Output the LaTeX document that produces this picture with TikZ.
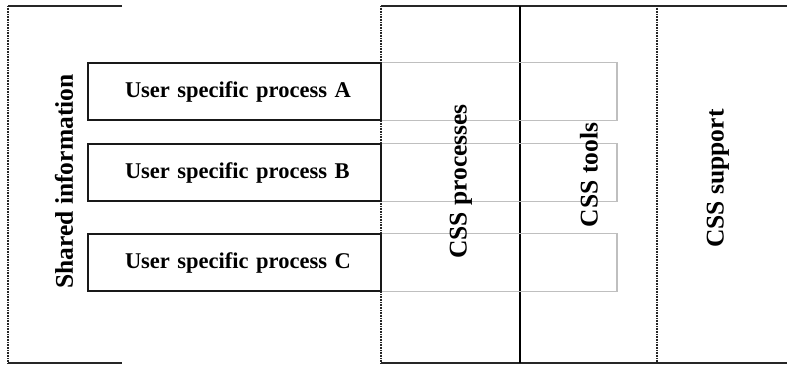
\documentclass[tikz,border=0pt]{standalone}
\usepackage{fontspec}
\setmainfont{Liberation Serif}
\begin{document}
\begin{tikzpicture}[x=1pt,y=-1pt,
  frame/.style={line width=1.1pt,draw=black!85},
  dotline/.style={line width=1.4pt,draw=black!85,dash pattern=on 0.9pt off 0.7pt},
  procbox/.style={draw=black!90,line width=1.1pt,minimum width=293pt,minimum height=57pt,
    inner xsep=0pt,inner ysep=0pt,text width=293pt,align=left,
    font=\fontsize{22.5}{24}\selectfont\bfseries},
  extend/.style={draw=black!25,line width=1.2pt},
  vlabel/.style={rotate=90,font=\fontsize{25.5}{28}\selectfont\bfseries,inner sep=0pt}]
\useasboundingbox (0,0) rectangle (787,365);

% shared information bracket
\coordinate (s1) at (122,6);
\coordinate (s2) at (8,6);
\coordinate (s3) at (8,363);
\coordinate (s4) at (122,363);
\draw[frame] (s1) -- (s2);
\draw[dotline] (s2) -- (s3);
\draw[frame] (s3) -- (s4);
\node[vlabel] (shared) at (64,181.5) {Shared information};

% CSS columns
\coordinate (c1) at (381,6);
\coordinate (c2) at (787,6);
\coordinate (c3) at (381,363);
\coordinate (c4) at (787,363);
\coordinate (t1) at (520,6);
\coordinate (t2) at (520,363);
\coordinate (u1) at (657,6);
\coordinate (u2) at (657,363);
\draw[frame] (c1) -- (c2);
\draw[frame] (c3) -- (c4);
\draw[dotline] (c1) -- (c3);
\draw[line width=1.1pt] (t1) -- (t2);
\draw[dotline] (u1) -- (u2);

% user specific processes
\foreach \n/\y/\t in {A/91.5/User specific process A, B/172.5/User specific process B, C/262.5/User specific process C}{
  \node[procbox] (p\n) at (234.5,\y) {\hspace*{37pt}\t};
  \coordinate (e\n) at (617,\y);
  \draw[extend] (p\n.north east) -| (e\n) |- (p\n.south east);
}

\node[vlabel] (proc) at (461,181.5) {CSS processes};
\node[vlabel] (tools) at (589,175) {CSS tools};
\node[vlabel] (support) at (718,178.5) {CSS support};
\end{tikzpicture}
\end{document}
